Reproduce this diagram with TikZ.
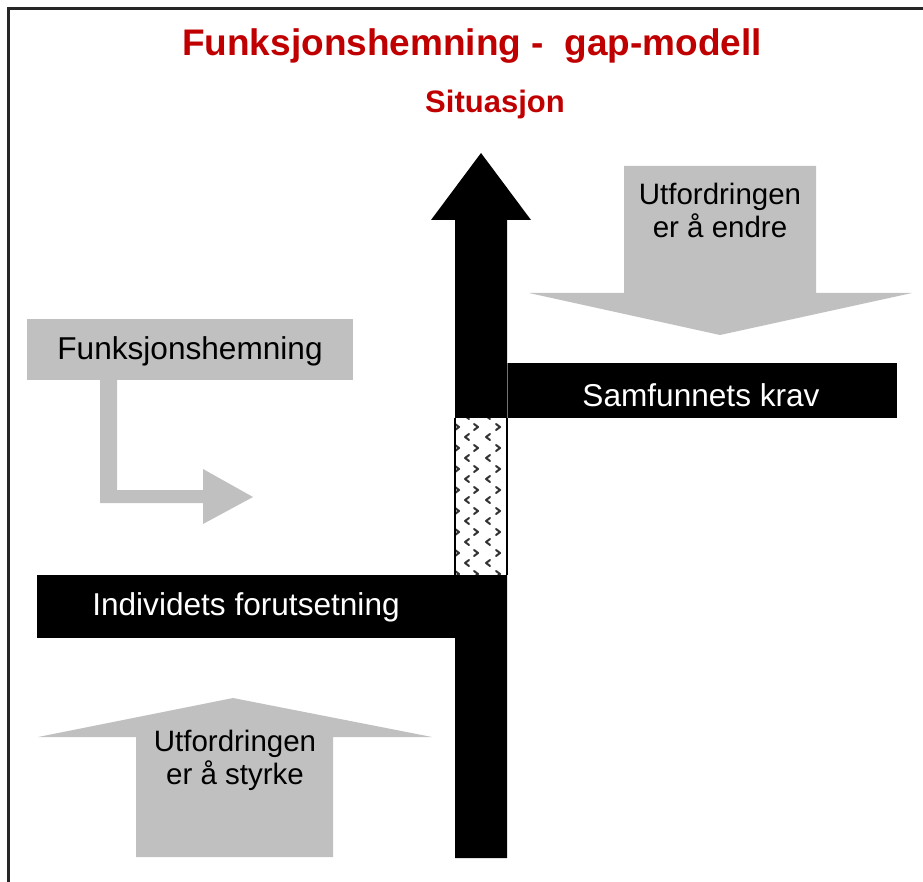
\documentclass[tikz,border=0pt]{standalone}
\usepackage{fontspec}
\setmainfont{Liberation Sans}
\usetikzlibrary{positioning}
\definecolor{Crimson}{HTML}{C00000}
\definecolor{Pale}{HTML}{C0C0C0}
\definecolor{Ink}{HTML}{000000}

\begin{document}
\begin{tikzpicture}[x=1pt,y=-1pt,
  greyblock/.style={fill=Pale,draw=none},
  blackblock/.style={fill=Ink,draw=none},
  chevron/.style={Ink!80,line width=2pt,line cap=round,line join=round},
  bodytext/.style={font=\fontsize{31.6}{36}\selectfont,inner sep=0pt},
  arrowtext/.style={font=\fontsize{29.5}{33}\selectfont,align=center,inner sep=0pt}]
\useasboundingbox (0,0) rectangle (923,882);

% Frame.
\draw[Ink!85,line width=2.5pt] (8.5,882) -- (8.5,8.5) -- (923,8.5);

% Headings.
\node[Crimson,font=\bfseries\fontsize{37}{40}\selectfont] (title) at (472,46)
  {Funksjonshemning -\ \ gap-modell};
\node[Crimson,font=\bfseries\fontsize{31}{34}\selectfont] (situation) at (495,104)
  {Situasjon};

% Situation arrow with the gap.
\fill[Ink] (455,858) -- (455,220) -- (431,220) -- (481,153) -- (531,220)
  -- (507,220) -- (507,858) -- cycle;
\fill[white] (455,418) rectangle (507,575);
\begin{scope}
  \clip (455,418) rectangle (507,575);
  \foreach \r in {0,...,7} {
    \foreach \c in {457,476,498}
      \draw[chevron] (\c-2,427+21*\r-3) -- (\c+2,427+21*\r)
        -- (\c-2,427+21*\r+3);
    \foreach \c in {467,488}
      \draw[chevron] (\c+2,416+21*\r-3) -- (\c-2,416+21*\r)
        -- (\c+2,416+21*\r+3);
  }
\end{scope}
\draw[Ink,line width=1.5pt] (455,418) -- (455,575) (507,418) -- (507,575);

% Demand and ability bars.
\fill[Ink] (507,363) rectangle (897,418);
\draw[Ink!55,line width=0.6pt] (507,363) -- (507,418);
\node[bodytext,white] (krav) at (701,395) {Samfunnets krav};
\fill[Ink] (37,575) rectangle (507,638);
\node[bodytext,white] (forutsetning) at (246,607) {Individets forutsetning};

% Challenge arrows.
\fill[greyblock] (624,166) -- (816,166) -- (816,293) -- (912,293) -- (720,335)
  -- (529,293) -- (624,293) -- cycle;
\node[arrowtext] (endre) at (720,210) {Utfordringen\\er å endre};
\fill[greyblock] (136,857) -- (136,737) -- (38,737) -- (233,698) -- (432,737)
  -- (333,737) -- (333,857) -- cycle;
\node[arrowtext] (styrke) at (235,760) {Utfordringen\\er å styrke};

% Disability label and bent arrow.
\fill[greyblock] (27,319) rectangle (353,380);
\node[bodytext] (hemning) at (190,351) {Funksjonshemning};
\fill[greyblock] (100,380) -- (117,380) -- (117,490) -- (203,490) -- (203,469)
  -- (253,497) -- (203,524) -- (203,503) -- (100,503) -- cycle;
\end{tikzpicture}
\end{document}
